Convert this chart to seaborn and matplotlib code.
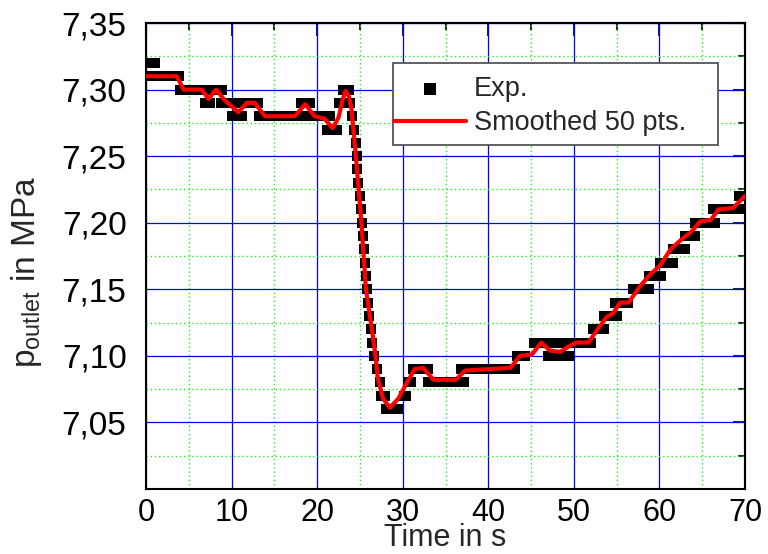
import matplotlib
matplotlib.use("Agg")
import matplotlib.pyplot as plt
import seaborn as sns
import pandas as pd
from matplotlib.patches import Rectangle
from matplotlib.ticker import FixedLocator

# ---------------- data ----------------
# Experimental points: quantised pressure levels and the times at which they occur
exp_levels = [7.32, 7.31, 7.30, 7.29, 7.29, 7.28, 7.28, 7.29, 7.27, 7.29, 7.30,
              7.28, 7.27, 7.26, 7.25, 7.24, 7.23, 7.22, 7.21, 7.20, 7.19, 7.18,
              7.17, 7.16, 7.15, 7.14, 7.13, 7.12, 7.11, 7.10, 7.09, 7.08,
              7.07, 7.06, 7.07, 7.08, 7.09, 7.08, 7.09, 7.10, 7.11, 7.10,
              7.12, 7.13, 7.14, 7.15, 7.16, 7.17, 7.18, 7.19, 7.20, 7.21, 7.22]
exp_times = [
    [0.6, 1.1],
    [0.6, 1.0, 1.4, 1.8, 2.2, 2.6, 3.0, 3.4, 3.9],
    [4.0, 4.4, 4.8, 5.2, 5.6, 6.0, 6.4, 6.8, 7.2, 7.6, 8.0, 8.4, 8.9],
    [6.9, 7.5],
    [8.8, 9.2, 9.6, 10.0, 10.4, 10.8, 11.2, 11.6, 12.0, 12.4, 12.8, 13.1],
    [10.1, 10.6, 11.2],
    [13.2, 13.6, 14.0, 14.4, 14.8, 15.2, 15.6, 16.0, 16.4, 16.8, 17.2, 17.6,
     18.0, 18.4, 18.8, 19.2, 19.6, 20.0, 20.4, 20.8, 21.2, 21.5],
    [18.1, 18.6, 19.2],
    [21.1, 21.5, 21.9, 22.3],
    [22.6, 23.0, 23.4, 23.8],
    [23.0, 23.4, 23.7],
    [24.1], [24.35], [24.5], [24.65], [24.7], [24.8], [25.0], [25.1], [25.2],
    [25.35], [25.45], [25.6], [25.7], [25.8], [26.0], [26.1], [26.25], [26.45],
    [26.7], [27.0], [27.3],
    [27.5, 27.9],
    [28.1, 28.5, 28.9, 29.4],
    [30.1, 30.4],
    [30.6, 31.0],
    [31.2, 31.6, 32.0, 32.4, 32.8, 33.0],
    [33.0, 33.4, 33.8, 34.2, 34.6, 35.0, 35.4, 35.8, 36.2, 36.6, 37.0, 37.2],
    [36.8, 37.2, 37.6, 38.0, 38.4, 38.8, 39.2, 39.6, 40.0, 40.4, 40.8, 41.2,
     41.6, 42.0, 42.4, 42.8, 43.1],
    [43.3, 43.8, 44.3],
    [45.3, 45.7, 46.1, 46.5, 46.9, 47.3, 47.7, 48.1, 48.5, 48.9, 49.3, 49.7,
     50.1, 50.5, 50.9, 51.3, 51.7, 52.0],
    [47.0, 47.4, 47.8, 48.2, 48.6, 49.0, 49.4],
    [52.2, 52.6, 53.0, 53.5],
    [53.5, 53.9, 54.3, 54.7, 55.0],
    [54.8, 55.2, 55.6, 56.0, 56.3],
    [56.9, 57.4, 57.8, 58.2, 58.6, 58.8],
    [58.8, 59.2, 59.6, 60.0, 60.2],
    [60.1, 60.5, 60.9, 61.3, 61.6],
    [61.6, 62.0, 62.4, 62.8, 63.0],
    [63.0, 63.4, 63.8, 64.1],
    [64.1, 64.5, 64.9, 65.3, 65.7, 66.1, 66.5],
    [66.3, 66.7, 67.1, 67.5, 67.9, 68.3, 68.7, 69.1, 69.4],
    [69.3, 69.8],
]

# Smoothed curve (50 pts)
smooth_time = [0.0, 3.6, 4.0, 4.4, 6.5, 7.3, 8.2, 9.2, 10.8, 11.8,
               12.7, 13.9, 17.4, 18.6, 19.7, 20.9, 21.8, 22.5, 23.0, 23.35,
               23.7, 24.0, 24.5, 25.2, 25.7, 26.4, 26.8, 27.1, 27.7, 28.5,
               29.5, 30.5, 31.4, 32.4, 33.6, 36.2, 37.3, 42.6, 43.7, 45.1,
               46.2, 47.2, 48.4, 49.4, 50.3, 51.7, 52.9, 53.8, 54.6, 55.4,
               56.4, 57.7, 58.9, 60.1, 61.3, 62.5, 63.7, 64.8, 66.0, 66.9,
               68.6, 70.0]
smooth_pressure = [7.310, 7.310, 7.305, 7.300, 7.300, 7.293, 7.300, 7.292, 7.283, 7.290,
                   7.290, 7.280, 7.280, 7.289, 7.280, 7.278, 7.271, 7.279, 7.293, 7.299,
                   7.295, 7.286, 7.252, 7.198, 7.150, 7.120, 7.101, 7.083, 7.068, 7.061,
                   7.068, 7.080, 7.090, 7.091, 7.082, 7.082, 7.089, 7.091, 7.100, 7.101,
                   7.110, 7.104, 7.103, 7.107, 7.110, 7.110, 7.121, 7.129, 7.132, 7.140,
                   7.140, 7.152, 7.161, 7.168, 7.180, 7.187, 7.193, 7.201, 7.202, 7.210,
                   7.211, 7.220]

x_ticks = [0, 10, 20, 30, 40, 50, 60, 70]
x_tick_labels = ["0", "10", "20", "30", "40", "50", "60", "70"]
x_minor = [5, 15, 25, 35, 45, 55, 65]
y_ticks = [7.05, 7.10, 7.15, 7.20, 7.25, 7.30, 7.35]
y_tick_labels = ["7,05", "7,10", "7,15", "7,20", "7,25", "7,30", "7,35"]
y_minor = [7.025, 7.075, 7.125, 7.175, 7.225, 7.275, 7.325]

exp_df = pd.DataFrame(
    [(t, lvl) for lvl, ts in zip(exp_levels, exp_times) for t in ts],
    columns=["time", "pressure"])
smooth_df = pd.DataFrame({"time": smooth_time, "pressure": smooth_pressure})

# ---------------- style ----------------
sns.set_style("white")
plt.rcParams["font.family"] = ["Liberation Sans", "DejaVu Sans"]
plt.rcParams["mathtext.default"] = "regular"

AX_L, AX_R, AX_T, AX_B = 146, 745, 23, 489
W, H = 768, 554
fig = plt.figure(figsize=(W / 100, H / 100), dpi=100)
ax = fig.add_axes([AX_L / W, 1 - AX_B / H, (AX_R - AX_L) / W, (AX_B - AX_T) / H])

sns.scatterplot(data=exp_df, x="time", y="pressure", marker="s", s=46,
                color="black", linewidth=0, ax=ax, label="Exp.", zorder=3)
sns.lineplot(data=smooth_df, x="time", y="pressure", color="#ff0000",
             linewidth=3.0, ax=ax, label="Smoothed 50 pts.", sort=False,
             estimator=None, zorder=4)

ax.set_xlim(0, 70)
ax.set_ylim(7.0, 7.35)
ax.xaxis.set_major_locator(FixedLocator(x_ticks))
ax.set_xticklabels(x_tick_labels)
ax.xaxis.set_minor_locator(FixedLocator(x_minor))
ax.yaxis.set_major_locator(FixedLocator(y_ticks))
ax.set_yticklabels(y_tick_labels)
ax.yaxis.set_minor_locator(FixedLocator(y_minor))

ax.set_axisbelow(True)
ax.grid(which="major", color="#0000ff", linewidth=0.9, linestyle="-")
ax.grid(which="minor", color="#22ee22", linewidth=1.0, linestyle=(0, (1, 2)))

for sp in ax.spines.values():
    sp.set_linewidth(1.5)
    sp.set_color("black")

ax.tick_params(which="major", direction="out", length=10, width=1.5,
               labelsize=24, colors="black", pad=4)
ax.tick_params(which="minor", direction="out", length=5, width=1.5)
ax.tick_params(axis="x", which="major", pad=-3.5, labelsize=22)

top = ax.secondary_xaxis("top")
top.xaxis.set_major_locator(FixedLocator(x_ticks))
top.xaxis.set_minor_locator(FixedLocator(x_minor))
top.tick_params(which="major", direction="in", length=9, width=1.5, labeltop=False)
top.tick_params(which="minor", direction="in", length=5, width=1.5)
top.spines["top"].set_linewidth(1.5)
right = ax.secondary_yaxis("right")
right.yaxis.set_major_locator(FixedLocator(y_ticks))
right.yaxis.set_minor_locator(FixedLocator(y_minor))
right.tick_params(which="major", direction="in", length=9, width=1.5, labelright=False)
right.tick_params(which="minor", direction="in", length=5, width=1.5)
right.spines["right"].set_linewidth(1.5)

xl = ax.set_xlabel("Time in s", fontsize=22)
ax.xaxis.set_label_coords(((AX_L + AX_R) / 2) / W, 0.5 / H, transform=fig.transFigure)
xl.set_verticalalignment("bottom")
ax.set_ylabel(r"p$_{outlet}$ in MPa", fontsize=24)
ax.yaxis.set_label_coords((44 - AX_L) / (AX_R - AX_L), (AX_B - 272) / (AX_B - AX_T))

# legend box and legend
x0 = (392.7 - AX_L) / (AX_R - AX_L)
x1 = (718 - AX_L) / (AX_R - AX_L)
y1 = (AX_B - 62.7) / (AX_B - AX_T)
y0 = (AX_B - 145) / (AX_B - AX_T)
ax.add_patch(Rectangle((x0, y0), x1 - x0, y1 - y0, transform=ax.transAxes,
                       facecolor="white", edgecolor="#555555", linewidth=1.3,
                       zorder=4.5, clip_on=False))
handles, labels = ax.get_legend_handles_labels()
leg = ax.legend(handles, labels, loc="upper left",
                bbox_to_anchor=(x0 - 7 / (AX_R - AX_L), y1 - 5 / (AX_B - AX_T)),
                bbox_transform=ax.transAxes, fontsize=19.5, frameon=False,
                handlelength=2.65, handletextpad=0.3, borderpad=0.3,
                labelspacing=0.32, markerscale=1.25, borderaxespad=0)
leg.set_zorder(5)

fig.savefig("out.png", dpi=100)
